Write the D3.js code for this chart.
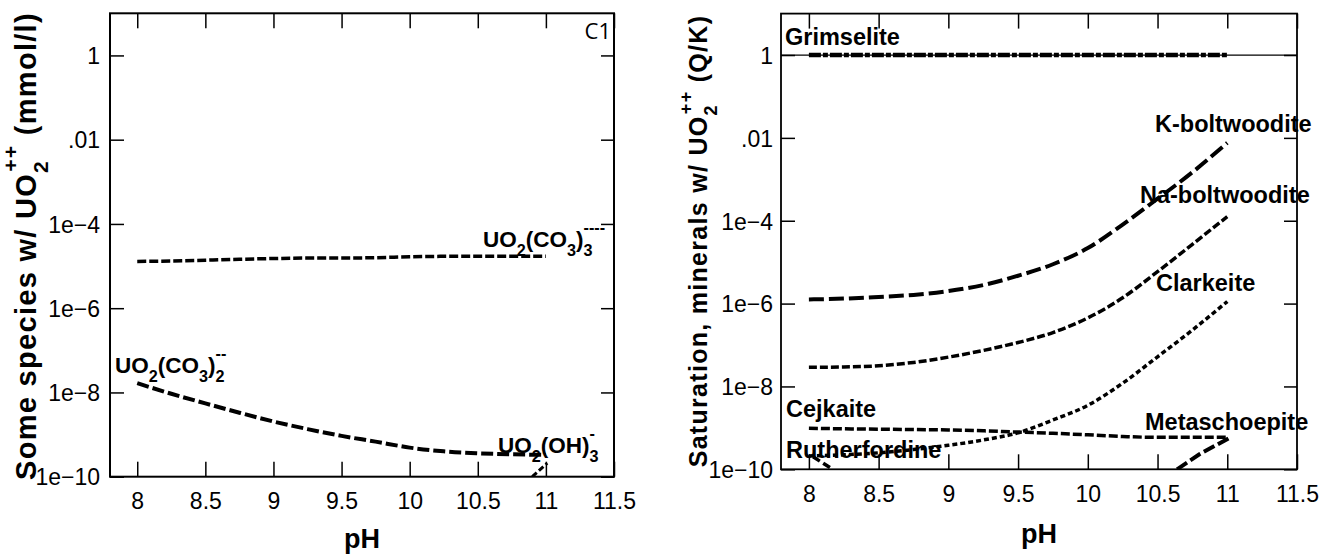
<!DOCTYPE html>
<html>
<head>
<meta charset="utf-8">
<script src="https://cdn.jsdelivr.net/npm/d3@7"></script>
<style>
  body { margin: 0; background: #fff; }
  svg { display: block; font-family: 'Liberation Sans', Arial, sans-serif; }
  .tick text { font-family: 'Liberation Sans Narrow', 'Arial Narrow', 'Liberation Sans', sans-serif; font-size: 23px; fill: #000; }
  .tick line { stroke: #000; stroke-width: 1.5; }
</style>
</head>
<body>
<svg id="chart" width="1321" height="554"></svg>
<script>
// pH grid the model output was sampled on
var pH = [8, 8.25, 8.5, 8.75, 9, 9.25, 9.5, 9.75, 10, 10.25, 10.5, 10.75, 11];

var xTicks = [8, 8.5, 9, 9.5, 10, 10.5, 11, 11.5];
var xTickLabels = ['8', '8.5', '9', '9.5', '10', '10.5', '11', '11.5'];
var yTicks = [1, 1e-2, 1e-4, 1e-6, 1e-8, 1e-10];
var yTickLabels = ['1', '.01', '1e\u22124', '1e\u22126', '1e\u22128', '1e\u221210'];

// C1: species with UO2++ (mmol/l)
var uo2co3_3 = [1.29e-5, 1.32e-5, 1.38e-5, 1.45e-5, 1.51e-5, 1.55e-5, 1.55e-5, 1.58e-5, 1.66e-5, 1.70e-5, 1.70e-5, 1.70e-5, 1.70e-5];
var uo2co3_2 = [1.66e-8, 9.3e-9, 5.5e-9, 3.3e-9, 2.04e-9, 1.35e-9, 9.3e-10, 6.8e-10, 4.9e-10, 4.0e-10, 3.6e-10, 3.4e-10, 3.3e-10];
var uo2oh3_pH = [10.9, 11.01];
var uo2oh3 = [1e-10, 2.1e-10];

// saturation of minerals with UO2++ (Q/K)
var grimselite = [1, 1, 1, 1, 1, 1, 1, 1, 1, 1, 1, 1, 1];
var kBoltwoodite = [1.26e-6, 1.32e-6, 1.45e-6, 1.62e-6, 2.0e-6, 2.8e-6, 4.7e-6, 8.9e-6, 2.19e-5, 8.1e-5, 3.4e-4, 1.48e-3, 7.6e-3];
var naBoltwoodite = [2.9e-8, 2.95e-8, 3.16e-8, 3.8e-8, 5.1e-8, 7.4e-8, 1.15e-7, 2.0e-7, 4.5e-7, 1.38e-6, 5.9e-6, 2.7e-5, 1.26e-4];
var clarkeite = [2.1e-10, 2.24e-10, 2.5e-10, 3.0e-10, 3.8e-10, 5.1e-10, 7.6e-10, 1.55e-9, 3.5e-9, 1.2e-8, 5.2e-8, 2.3e-7, 1.12e-6];
var cejkaite = [9.8e-10, 9.5e-10, 9.3e-10, 9.1e-10, 8.9e-10, 8.5e-10, 7.9e-10, 7.4e-10, 6.8e-10, 6.2e-10, 5.9e-10, 5.9e-10, 5.9e-10];
var metaschoepite_pH = [10.64, 10.8, 11.01];
var metaschoepite = [1e-10, 2.3e-10, 5.6e-10];
var rutherfordine_pH = [8.03, 8.17];
var rutherfordine = [2.0e-10, 1e-10];

function zip(xs, ys){
  return xs.map(function(v, i){ return [v, ys[i]]; });
}

// text with sub/superscripts; a "stack" part sits over the previous part
function richText(g, parts, size){
  var text = g.append('text').attr('font-size', size);
  var shift = 0;
  var prev = null;
  parts.forEach(function(p){
    var target = p.k === 'sub' ? size * 0.4 : (p.k === 'sup' ? -size * 0.62 : 0);
    var ts = text.append('tspan')
      .attr('dy', target - shift)
      .attr('font-size', p.k ? size * 0.72 : size)
      .text(p.t)
      ;
    if(p.stack && prev){
      ts.attr('dx', -prev.node().getComputedTextLength());
    }
    shift = target;
    prev = ts;
  });
  return text;
}

var svg = d3.select('#chart');
svg.append('rect').attr('width', 1321).attr('height', 554).attr('fill', '#fff');

function drawPanel(p){
  var g = svg.append('g');

  var x = d3.scaleLinear().domain([7.8, 11.5]).range([p.left, p.right]);
  var y = d3.scaleLog().domain([1e-10, 10]).range([p.bottom, p.top]);

  g.append('clipPath').attr('id', p.id + '-clip')
    .append('rect')
    .attr('x', p.left).attr('y', p.top)
    .attr('width', p.right - p.left).attr('height', p.bottom - p.top)
    ;

  g.append('g')
    .attr('transform', 'translate(0,' + p.bottom + ')')
    .call(d3.axisBottom(x).tickValues(xTicks).tickSize(-15).tickPadding(16)
      .tickFormat(function(d, i){ return xTickLabels[i]; }));

  g.append('g')
    .attr('transform', 'translate(' + p.left + ',0)')
    .call(d3.axisLeft(y).tickValues(yTicks).tickSize(-14).tickPadding(p.yPad)
      .tickFormat(function(d, i){ return yTickLabels[i]; }));

  g.append('g')
    .attr('transform', 'translate(0,' + p.top + ')')
    .call(d3.axisTop(x).tickValues(xTicks).tickSize(-15).tickFormat(''));

  g.append('g')
    .attr('transform', 'translate(' + p.right + ',0)')
    .call(d3.axisRight(y).tickValues(yTicks).tickSize(-13).tickFormat(''));

  g.selectAll('.domain').remove();
  g.selectAll('.tick text').attr('dy', function(){
    return d3.select(this.parentNode.parentNode).attr('transform').indexOf('translate(0') === 0 ? '0.71em' : '0.36em';
  });

  if(p.refLine){
    g.append('line')
      .attr('x1', p.left).attr('x2', p.right)
      .attr('y1', y(1)).attr('y2', y(1))
      .attr('stroke', '#000').attr('stroke-width', 1.2)
      ;
  }

  var smooth = d3.line()
    .x(function(d){ return x(d[0]); })
    .y(function(d){ return y(d[1]); })
    .curve(d3.curveMonotoneX)
    ;
  var straight = d3.line()
    .x(function(d){ return x(d[0]); })
    .y(function(d){ return y(d[1]); })
    ;

  g.append('g').attr('clip-path', 'url(#' + p.id + '-clip)')
    .selectAll('path')
    .data(p.series)
    .enter()
    .append('path')
    .attr('d', function(d){ return d.points.length > 3 ? smooth(d.points) : straight(d.points); })
    .attr('fill', 'none')
    .attr('stroke', '#000')
    .attr('stroke-width', function(d){ return d.width; })
    .attr('stroke-dasharray', function(d){ return d.dash; })
    ;

  g.append('rect')
    .attr('x', p.left).attr('y', p.top)
    .attr('width', p.right - p.left).attr('height', p.bottom - p.top)
    .attr('fill', 'none').attr('stroke', '#000').attr('stroke-width', p.frame)
    ;

  p.labels.forEach(function(l){
    richText(g, l.parts, l.size)
      .attr('x', l.x).attr('y', l.y)
      .attr('font-weight', 'bold')
      ;
  });

  richText(g, p.yTitle, p.yTitleSize)
    .attr('transform', 'translate(' + p.yTitleX + ',' + p.yTitleY + ') rotate(-90)')
    .attr('text-anchor', 'middle')
    .attr('font-weight', 'bold')
    .attr('letter-spacing', 1.3)
    ;

  g.append('text')
    .attr('x', (p.left + p.right) / 2).attr('y', p.xTitleY)
    .attr('text-anchor', 'middle')
    .attr('font-weight', 'bold')
    .attr('font-size', 27)
    .text('pH')
    ;

  return g;
}

var left = drawPanel({
  id: 'c1', left: 110, right: 614, top: 13.3, bottom: 476.7, frame: 2, yPad: 10,
  series: [
    { points: zip(pH, uo2co3_3), dash: '9,3', width: 3.5 },
    { points: zip(pH, uo2co3_2), dash: '12,4', width: 4 },
    { points: zip(uo2oh3_pH, uo2oh3), dash: '6,3', width: 3 }
  ],
  labels: [
    { x: 483, y: 247, size: 22.5, parts: [{t: 'UO'}, {t: '2', k: 'sub'}, {t: '(CO'}, {t: '3', k: 'sub'}, {t: ')'}, {t: '3', k: 'sub'}, {t: '----', k: 'sup', stack: true}] },
    { x: 115, y: 373, size: 22.5, parts: [{t: 'UO'}, {t: '2', k: 'sub'}, {t: '(CO'}, {t: '3', k: 'sub'}, {t: ')'}, {t: '2', k: 'sub'}, {t: '--', k: 'sup', stack: true}] },
    { x: 498, y: 453, size: 22.5, parts: [{t: 'UO'}, {t: '2', k: 'sub'}, {t: '(OH)'}, {t: '3', k: 'sub'}, {t: '-', k: 'sup', stack: true}] }
  ],
  yTitle: [{t: 'Some species w/ UO'}, {t: '2', k: 'sub'}, {t: '++', k: 'sup', stack: true}, {t: ' (mmol/l)'}],
  yTitleSize: 29, yTitleX: 36, yTitleY: 246,
  xTitleY: 548
});

left.append('text')
  .attr('x', 611).attr('y', 39)
  .attr('text-anchor', 'end')
  .attr('font-family', 'Open Sans, DejaVu Sans, sans-serif')
  .attr('font-size', 22)
  .text('C1')
  ;

drawPanel({
  id: 'sat', left: 781, right: 1297, top: 13.6, bottom: 469.3, frame: 1.8, yPad: 8, refLine: true,
  series: [
    { points: zip(pH, grimselite), dash: '12,2,5,2', width: 4.5 },
    { points: zip(pH, kBoltwoodite), dash: '15,5', width: 4 },
    { points: zip(pH, naBoltwoodite), dash: '8,3', width: 3.5 },
    { points: zip(pH, clarkeite), dash: '5,3', width: 3.5 },
    { points: zip(pH, cejkaite), dash: '9,3', width: 3.5 },
    { points: zip(metaschoepite_pH, metaschoepite), dash: '12,4', width: 4 },
    { points: zip(rutherfordine_pH, rutherfordine), dash: '8,4', width: 3.5 }
  ],
  labels: [
    { x: 785, y: 45, size: 23.5, parts: [{t: 'Grimselite'}] },
    { x: 1155, y: 132, size: 23.5, parts: [{t: 'K-boltwoodite'}] },
    { x: 1140, y: 203, size: 23.5, parts: [{t: 'Na-boltwoodite'}] },
    { x: 1156, y: 291, size: 23.5, parts: [{t: 'Clarkeite'}] },
    { x: 786, y: 417, size: 23.5, parts: [{t: 'Cejkaite'}] },
    { x: 1145, y: 430, size: 23.5, parts: [{t: 'Metaschoepite'}] },
    { x: 786, y: 458, size: 23.5, parts: [{t: 'Rutherfordine'}] }
  ],
  yTitle: [{t: 'Saturation, minerals w/ UO'}, {t: '2', k: 'sub'}, {t: '++', k: 'sup', stack: true}, {t: ' (Q/K)'}],
  yTitleSize: 25, yTitleX: 707, yTitleY: 241,
  xTitleY: 543
});
</script>
</body>
</html>
